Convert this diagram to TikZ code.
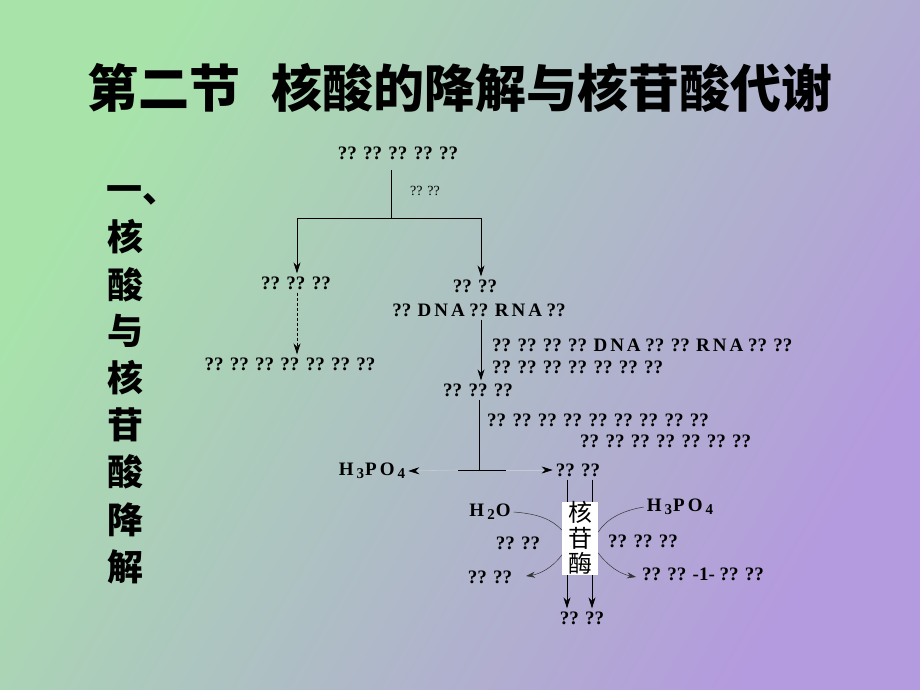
\documentclass[tikz,border=0pt]{standalone}
\usepackage{fontspec}
\setmainfont{Liberation Serif}
\newfontfamily\cjk{Noto Sans CJK SC}
\usetikzlibrary{arrows.meta}
\definecolor{bgL}{RGB}{168,228,170}
\definecolor{bgR}{RGB}{180,154,222}
\definecolor{faint}{RGB}{196,202,214}
\tikzset{
  lab/.style={font=\fontsize{19}{22}\selectfont\bfseries, inner sep=3pt},
  tiny/.style={font=\fontsize{14}{16}\selectfont, inner sep=2pt},
  ttl/.style={font=\cjk\bfseries\fontsize{51}{54}\selectfont, inner sep=0pt},
  side/.style={font=\cjk\bfseries\fontsize{36}{40}\selectfont, inner sep=0pt},
  arr/.style={-{Stealth[length=11pt,width=7pt]}, line width=0.8pt},
  ln/.style={line width=0.8pt},
  curv/.style={line width=0.5pt, draw=black!80},
  faintarr/.style={draw=faint, line width=0.6pt, -{Stealth[length=11pt,width=7pt,color=black]}},
}
\newcommand{\hpo}{H\kern3pt\raisebox{-0.3ex}{\fontsize{15}{15}\selectfont 3}\kern1pt P\kern3pt O\kern3pt\raisebox{-0.3ex}{\fontsize{15}{15}\selectfont 4}}
\newcommand{\DNAx}{D\kern3pt N\kern3pt A}
\newcommand{\RNAx}{R\kern3pt N\kern3pt A}
\begin{document}
\begin{tikzpicture}[x=1pt,y=-1pt]
\useasboundingbox (0,0) rectangle (920,690);
\shade[left color=bgL, right color=bgR, shading angle=60] (0,0) rectangle (920,690);

% title
\node[ttl] (title) at (460,88) {第二节\hspace{0.6em}核酸的降解与核苷酸代谢};
% side column
\node[side, anchor=west] (s0) at (106,195) {一、};
\node[side] (s1) at (125,237) {核};
\node[side] (s2) at (125,285) {酸};
\node[side] (s3) at (125,331) {与};
\node[side] (s4) at (125,378) {核};
\node[side] (s5) at (125,425) {苷};
\node[side] (s6) at (125,472) {酸};
\node[side] (s7) at (125,520) {降};
\node[side] (s8) at (125,567) {解};

% top
\node[lab] (a) at (398,153) {?? ?? ?? ?? ??};
\node[tiny] (alab) at (425,191) {?? ??};
\coordinate (t1) at (391,170);
\coordinate (j1) at (391,218);
\coordinate (jl) at (297,218);
\coordinate (jr) at (481,218);
\draw[ln] (t1) -- (j1);
\draw[ln] (jl) -- (jr);

\node[lab] (b) at (296,283) {?? ?? ??};
\node[lab] (c1) at (475,286) {?? ??};
\node[lab] (c2) at (479,310) {?? \DNAx\ ?? \RNAx\ ??};
\draw[arr] (jl) -- (jl |- b.north);
\draw[arr] (jr) -- (jr |- c1.north);

\node[lab] (d) at (290,364) {?? ?? ?? ?? ?? ?? ??};
\draw[arr, dash pattern=on 3pt off 2pt] (b.south -| jl) -- (jl |- d.north);

\node[lab, anchor=west] (f1) at (489,345) {?? ?? ?? ?? \DNAx\ ?? ?? \RNAx\ ?? ??};
\node[lab, anchor=west] (f2) at (489,367) {?? ?? ?? ?? ?? ?? ??};
\node[lab] (e) at (478,390) {?? ?? ??};
\draw[arr] (c2.south -| jr) -- (jr |- e.north);

\node[lab, anchor=west] (i1) at (484,420) {?? ?? ?? ?? ?? ?? ?? ?? ??};
\node[lab, anchor=west] (i2) at (577,441) {?? ?? ?? ?? ?? ?? ??};

\coordinate (k) at (479,470);
\coordinate (kl) at (458,470);
\coordinate (kr) at (506,470);
\draw[ln] (e.south -| k) -- (k);
\draw[ln] (kl) -- (kr);
\node[lab] (h1) at (372,471) {\hpo};
\node[lab] (g) at (578,470) {?? ??};
\draw[faintarr] (kl) -- (h1.east);
\draw[faintarr] (kr) -- (g.west);

% enzyme
\node[lab] (m) at (582,618) {?? ??};
\draw[arr] ([xshift=-11pt]g.south) -- ([xshift=-11pt]g.south |- m.north);
\draw[arr] ([xshift=14pt]g.south) -- ([xshift=14pt]g.south |- m.north);
\node[fill=white, minimum width=36pt, minimum height=72pt, inner sep=0pt,
      align=center, font=\cjk\fontsize{24}{25.5}\selectfont] (enz) at (580,538) {核\\苷\\酶};

\node[lab] (w) at (490,512) {H\kern3pt\raisebox{-0.3ex}{\fontsize{15}{15}\selectfont 2}\kern1pt O};
\node[lab] (h2) at (680,507) {\hpo};
\node[lab] (l1) at (518,543) {?? ??};
\node[lab] (l2) at (643,541) {?? ?? ??};
\node[lab] (n1) at (490,577) {?? ??};
\node[lab] (p) at (703,574) {?? ?? -1- ?? ??};

\coordinate (n1e) at (526,576);
\coordinate (pw) at (636,577);
\draw[curv] (w.east) .. controls (540,514) and (552,520) .. ([yshift=8pt]enz.west);
\draw[curv] (h2.west) .. controls (620,511) and (606,520) .. ([yshift=6pt]enz.east);
\draw[curv, -{Stealth[length=9pt,width=6pt]}] ([yshift=-17pt]enz.west) .. controls (552,568) and (540,574) .. (n1e);
\draw[curv, -{Stealth[length=9pt,width=6pt]}] ([yshift=-15pt]enz.east) .. controls (608,566) and (620,574) .. (pw);
\end{tikzpicture}
\end{document}
